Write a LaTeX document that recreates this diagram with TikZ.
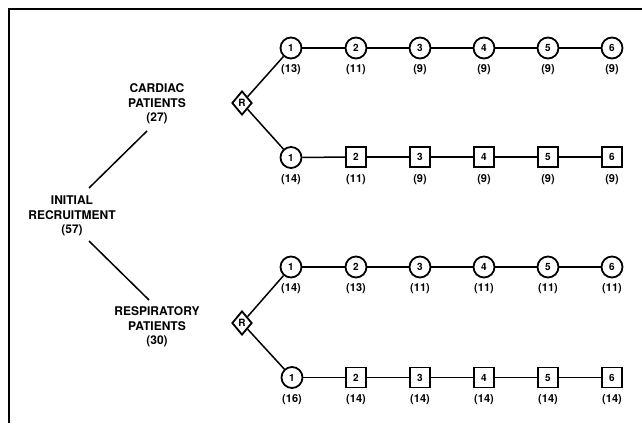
\documentclass[tikz,border=0pt]{standalone}
\usepackage{fontspec}
\setmainfont{TeX Gyre Heros}
\usetikzlibrary{shapes.geometric}
\tikzset{
  visit/.style={circle,draw,line width=1.8pt,minimum size=21pt,inner sep=0pt,font=\bfseries\fontsize{10}{10}\selectfont},
  sqvisit/.style={rectangle,draw,line width=1.8pt,minimum size=20pt,inner sep=0pt,font=\bfseries\fontsize{10}{10}\selectfont},
  rand/.style={diamond,draw,line width=1.8pt,minimum width=20pt,minimum height=24pt,inner sep=0pt,font=\bfseries\fontsize{10}{10}\selectfont},
  count/.style={font=\bfseries\fontsize{11}{11}\selectfont,inner sep=0pt},
  grp/.style={align=center,font=\bfseries\fontsize{12}{14.5}\selectfont,inner sep=0pt},
  conn/.style={line width=1.5pt},
  frame/.style={line width=2.4pt}
}
\begin{document}
\begin{tikzpicture}[x=1pt,y=-1pt]
\useasboundingbox (0,0) rectangle (642,423);
% frame
\coordinate (f1) at (9,423);
\coordinate (f2) at (9,9);
\coordinate (f3) at (642,9);
\draw[frame] (f1) -- (f2) -- (f3);

% group labels
\node[grp] (init) at (72,216) {INITIAL\\RECRUITMENT\\(57)};
\node[grp] (card) at (157,104) {CARDIAC\\PATIENTS\\(27)};
\node[grp] (resp) at (157,327) {RESPIRATORY\\PATIENTS\\(30)};
\coordinate (a1) at (89,188);
\coordinate (a2) at (147,131);
\coordinate (b1) at (89,241);
\coordinate (b2) at (149,300);
\draw[conn] (a1) -- (a2);
\draw[conn] (b1) -- (b2);

% randomisation diamonds
\node[rand] (rc) at (242,103) {R};
\node[rand] (rr) at (242,323) {R};

% cardiac rows
\foreach \i/\x/\n in {1/291/13,2/356/11,3/420/9,4/484/9,5/548/9,6/612/9}{
  \node[visit] (ct\i) at (\x,48) {\i};
  \node[count] (ctn\i) at (\x,70) {(\n)};
}
\node[visit] (cb1) at (291,157.5) {1};
\node[count] (cbn1) at (291,180) {(14)};
\foreach \i/\x/\n in {2/356/11,3/420/9,4/484/9,5/548/9,6/612/9}{
  \node[sqvisit] (cb\i) at (\x,157) {\i};
  \node[count] (cbn\i) at (\x,180) {(\n)};
}
% respiratory rows
\foreach \i/\x/\n in {1/291/14,2/356/13,3/420/11,4/484/11,5/548/11,6/612/11}{
  \node[visit] (rt\i) at (\x,267) {\i};
  \node[count] (rtn\i) at (\x,288.5) {(\n)};
}
\node[visit] (rb1) at (292,377.5) {1};
\node[count] (rbn1) at (292,399.5) {(16)};
\foreach \i/\x/\n in {2/356/14,3/420/14,4/484/14,5/548/14,6/612/14}{
  \node[sqvisit] (rb\i) at (\x,377.5) {\i};
  \node[count] (rbn\i) at (\x,399.5) {(\n)};
}

% connectors
\draw[conn] (rc) -- (ct1);
\draw[conn] (rc) -- (cb1);
\draw[conn] (rr) -- (rt1);
\draw[conn] (rr) -- (rb1);
\foreach \p/\q in {1/2,2/3,3/4,4/5,5/6}{
  \draw[conn] (ct\p) -- (ct\q);
  \draw[conn] (cb\p) -- (cb\q);
  \draw[conn] (rt\p) -- (rt\q);
  \draw[conn] (rb\p) -- (rb\q);
}
\end{tikzpicture}
\end{document}
